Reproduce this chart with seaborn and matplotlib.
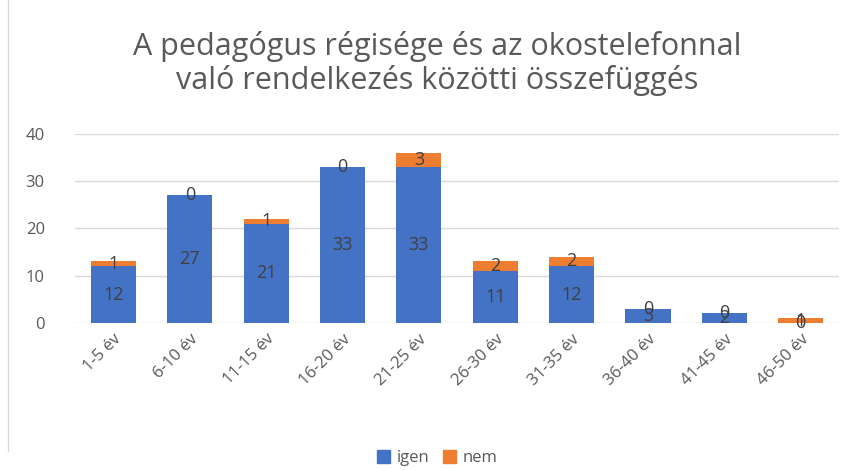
import matplotlib
matplotlib.use('Agg')
import matplotlib.pyplot as plt
import seaborn as sns
import pandas as pd
from matplotlib.patches import Patch
from matplotlib.lines import Line2D

kategoriak = ['1-5 év', '6-10 év', '11-15 év', '16-20 év', '21-25 év',
              '26-30 év', '31-35 év', '36-40 év', '41-45 év', '46-50 év']
igen = [12, 27, 21, 33, 33, 11, 12, 3, 2, 0]
nem = [1, 0, 1, 0, 3, 2, 2, 0, 0, 1]

kek = '#4472C4'
narancs = '#ED7D31'
szurke = '#595959'

df = pd.DataFrame({'kat': kategoriak, 'igen': igen, 'nem': nem})
df['ossz'] = df['igen'] + df['nem']

sns.set_style('white')
plt.rcParams['font.family'] = ['Open Sans', 'DejaVu Sans']

fig = plt.figure(figsize=(8.56, 4.70), dpi=100)
ax = fig.add_axes([0.088, 0.313, 0.892, 0.402])

# osszeg narancs, arra ra a kek -> halmozott oszlop
sns.barplot(data=df, x='kat', y='ossz', color=narancs, width=0.59,
            saturation=1, linewidth=0, edgecolor='none', ax=ax, zorder=2)
sns.barplot(data=df, x='kat', y='igen', color=kek, width=0.59,
            saturation=1, linewidth=0, edgecolor='none', ax=ax, zorder=3)

for i in range(len(kategoriak)):
    ax.text(i, igen[i] / 2, str(igen[i]), ha='center', va='center',
            fontsize=13, color='#404040', zorder=5)
    ax.text(i, igen[i] + nem[i] / 2, str(nem[i]), ha='center', va='center',
            fontsize=13, color='#404040', zorder=5)

ax.set_ylim(0, 40)
ax.set_yticks(range(0, 41, 10))
ax.set_xlim(-0.5, len(kategoriak) - 0.5)
ax.grid(axis='y', color='#D9D9D9', linewidth=1, zorder=0)
ax.set_axisbelow(True)
for s in ax.spines.values():
    s.set_visible(False)
ax.set_xlabel('')
ax.set_ylabel('')
ax.tick_params(axis='both', length=0, colors=szurke, labelsize=12)
ax.tick_params(axis='y', pad=22)
ax.tick_params(axis='x', pad=6)
plt.setp(ax.get_xticklabels(), rotation=45, ha='right', rotation_mode='anchor')

fig.text(0.511, 0.865, 'A pedagógus régisége és az okostelefonnal\nvaló rendelkezés közötti összefüggés',
         ha='center', va='center', fontsize=22, color=szurke, linespacing=1.1)

kezek = [Patch(color=kek, label='igen'), Patch(color=narancs, label='nem')]
fig.legend(handles=kezek, loc='center', bbox_to_anchor=(0.511, 0.025), ncol=2,
           frameon=False, fontsize=12, handlelength=0.8, handleheight=0.8,
           handletextpad=0.4, columnspacing=0.8, labelcolor=szurke)

fig.add_artist(Line2D([0.009, 0.009], [0.04, 1.0], color='#D9D9D9', linewidth=1,
                      transform=fig.transFigure))

fig.savefig('out.png', dpi=100, facecolor='white')
